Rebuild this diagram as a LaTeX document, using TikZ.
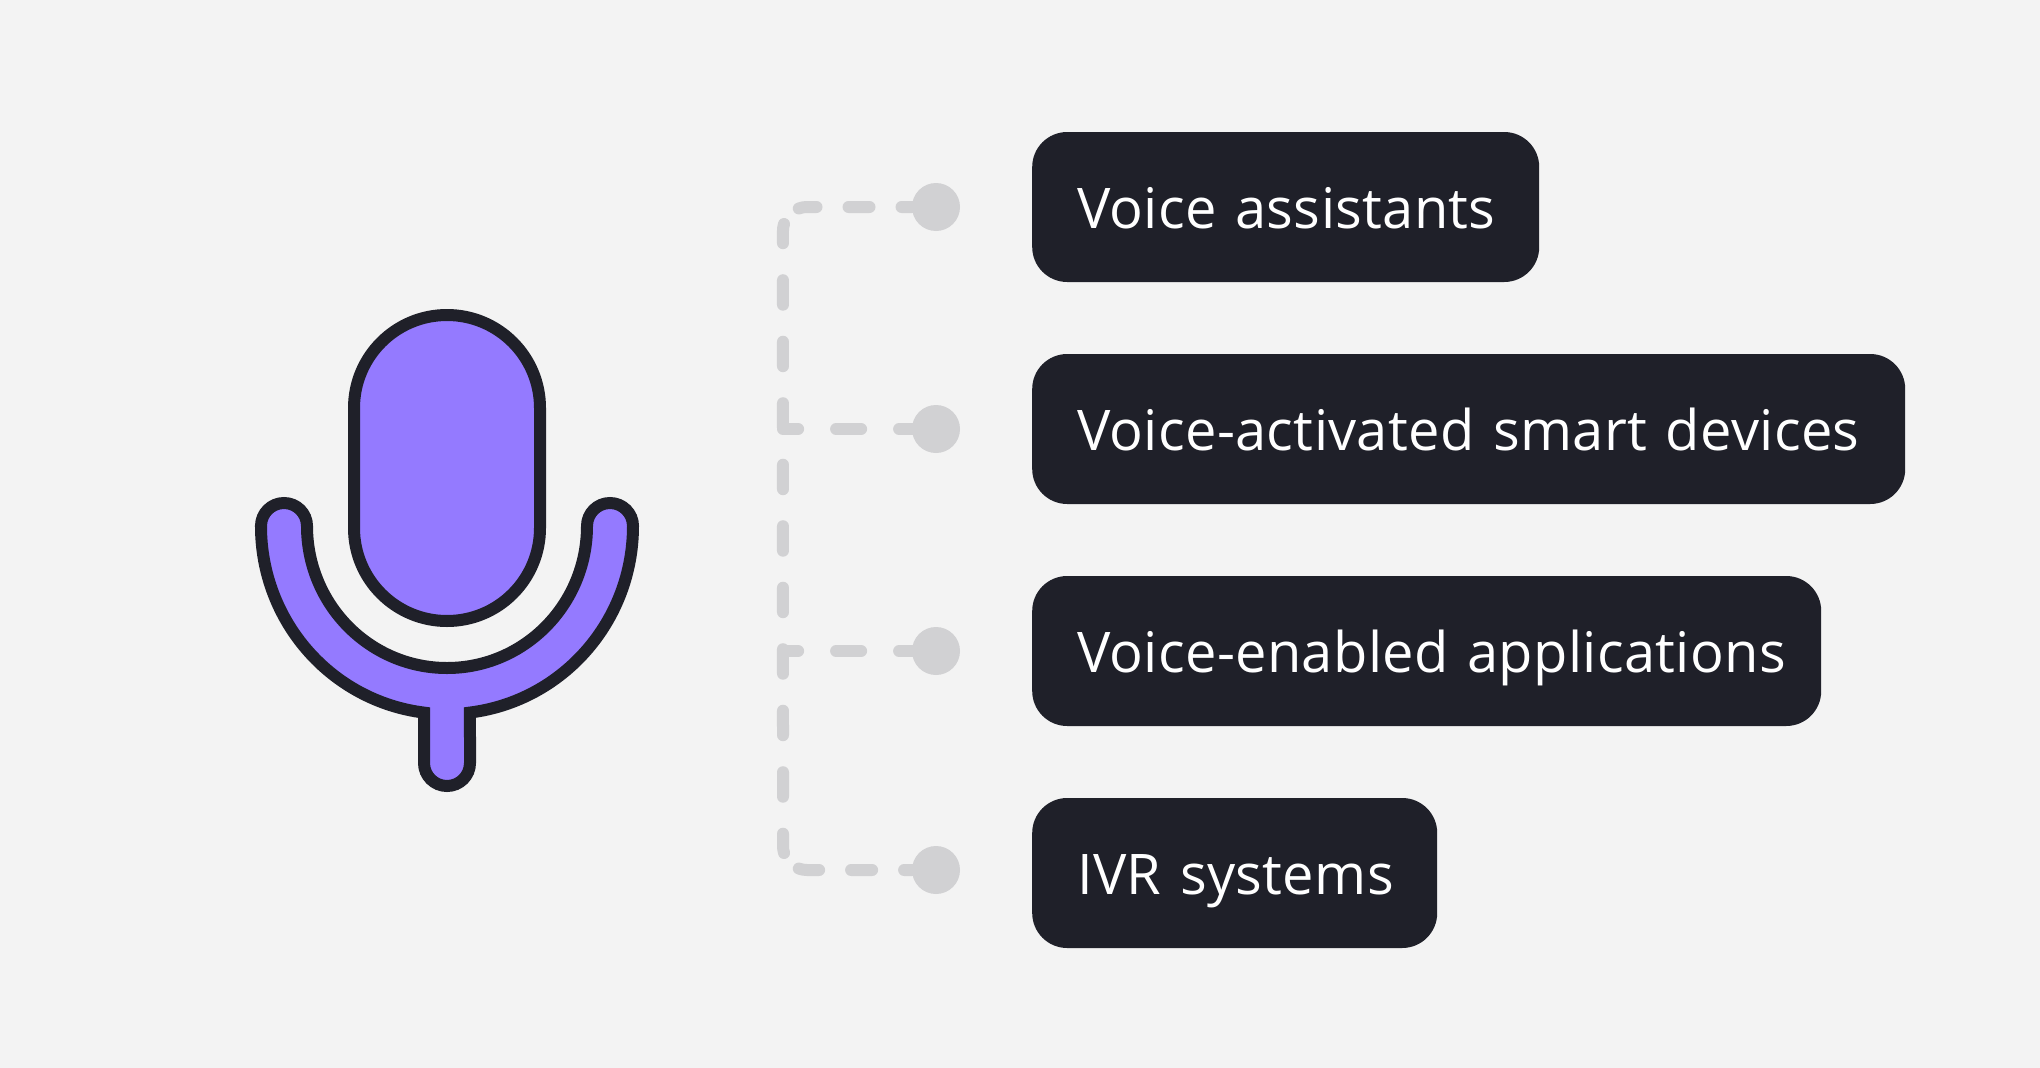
\documentclass[tikz,border=0pt]{standalone}
\usepackage{fontspec}
\usepackage{xcolor}
\usepackage{tikz}
\usetikzlibrary{arrows.meta,positioning,calc}
\setmainfont[LetterSpace=0.6]{Open Sans}
\definecolor{paperbg}{HTML}{F3F3F3}
\definecolor{micviolet}{HTML}{947AFF}
\definecolor{inkdark}{HTML}{1F2029}
\definecolor{linkgrey}{HTML}{D1D1D3}
\tikzset{
  micpart/.style={draw=inkdark,fill=micviolet,line width=12pt,miter limit=10},
  linkline/.style={draw=linkgrey,line width=12pt,line cap=round},
  spinedash/.style={linkline,dash pattern=on 24.5pt off 37pt,dash phase=5.2pt},
  armdash/.style={linkline,dash pattern=on 21pt off 32pt},
  branchdash/.style={linkline,dash pattern=on 25pt off 38pt,dash phase=12.3pt},
  linkdot/.style={circle,fill=linkgrey,minimum size=48pt,inner sep=0pt},
  labelbox/.style={anchor=west,fill=inkdark,text=white,rounded corners=35pt,minimum height=150pt,
    inner xsep=45pt,inner ysep=0pt,text height=52pt,text depth=10pt,align=left,
    font=\fontsize{56pt}{60pt}\selectfont},
}
\begin{document}
\begin{tikzpicture}[x=1pt,y=-1pt]
  \fill[paperbg] (0,0) rectangle (2040,1068);
  % microphone
  \draw[micpart] (354,408) arc[start angle=180,end angle=360,radius=93] -- (540,528)
    arc[start angle=0,end angle=180,radius=93] -- cycle;
  \draw[micpart] (261,526) arc[start angle=180,end angle=360,radius=23]
    arc[start angle=180,end angle=0,x radius=140,y radius=142]
    arc[start angle=180,end angle=360,radius=23]
    arc[start angle=0,end angle=82.9,x radius=186,y radius=188] -- (470,763)
    arc[start angle=0,end angle=180,radius=23] -- (424,712.6)
    arc[start angle=97.1,end angle=180,x radius=186,y radius=188] -- cycle;
  % dots and labels
  \foreach \n/\y in {1/207,2/429,3/651,4/870}
    \node[linkdot] (dot\n) at (936,\y) {};
  \node[labelbox,text width=417pt] (assist) at (1032,207) {\mbox{Voice assistants}};
  \node[labelbox,text width=783pt] (smart) at (1032,429) {\mbox{Voice-activated smart devices}};
  \node[labelbox,text width=699pt] (apps) at (1032,651) {\mbox{Voice-enabled applications}};
  \node[labelbox,text width=315pt] (ivr) at (1032,873) {\mbox{IVR systems}};
  % connectors
  \coordinate (jsmart) at (783,429);
  \coordinate (japps) at (783,651);
  \coordinate (ctop) at (807,207);
  \coordinate (cbot) at (807,870);
  \coordinate (stop) at (784,224);
  \draw[spinedash] (stop) arc[start angle=197,end angle=180,radius=24] -- (783,846)
    arc[start angle=180,end angle=163,radius=24];
  \draw[armdash,dash phase=10.7pt] (dot1.west) -- (ctop) arc[start angle=270,end angle=250,radius=24];
  \draw[armdash,dash phase=13.3pt] (dot4.west) -- (cbot) arc[start angle=90,end angle=110,radius=24];
  \draw[branchdash] (dot2.west) -- (jsmart);
  \draw[branchdash] (dot3.west) -- (japps);
\end{tikzpicture}
\end{document}
